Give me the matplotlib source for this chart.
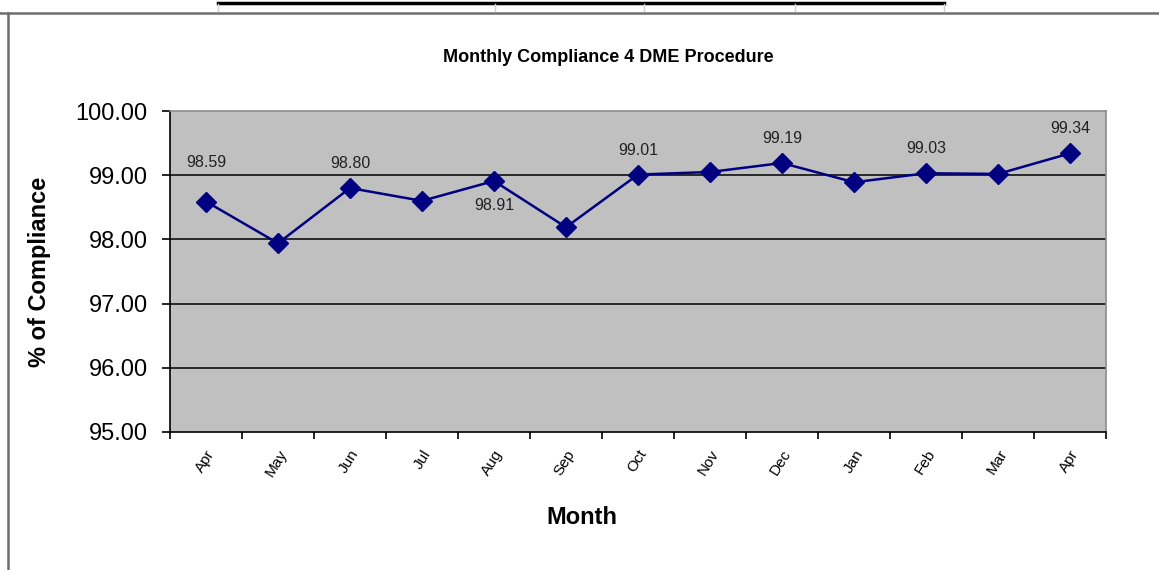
import matplotlib
matplotlib.use("Agg")
import matplotlib.pyplot as plt
from matplotlib.lines import Line2D

# data
months = ["Apr", "May", "Jun", "Jul", "Aug", "Sep", "Oct",
          "Nov", "Dec", "Jan", "Feb", "Mar", "Apr"]
compliance = [98.59, 97.94, 98.80, 98.60, 98.91, 98.19, 99.01,
              99.05, 99.19, 98.89, 99.03, 99.02, 99.34]
labelled = [0, 2, 4, 6, 8, 10, 12]   # points that carry a value label
label_below = [4]

plt.rcParams["font.family"] = ["Liberation Sans", "DejaVu Sans"]

fig = plt.figure(figsize=(11.59, 5.70), dpi=100)
ax = fig.add_axes([170 / 1159, 1 - 432 / 570, 936 / 1159, 321 / 570])
ax.set_facecolor("#c0c0c0")

x = [i + 0.5 for i in range(len(months))]
ax.plot(x, compliance, color="#000080", lw=1.8, marker="D", ms=10.5,
        mfc="#000080", mec="#000080", zorder=3)

for i in labelled:
    if i in label_below:
        dy, va = -17, "top"
    elif i == 0:
        dy, va = 32, "bottom"
    else:
        dy, va = 17, "bottom"
    ax.annotate(f"{compliance[i]:.2f}", (x[i], compliance[i]),
                xytext=(0, dy * 0.72), textcoords="offset points",
                ha="center", va=va, fontsize=11.5, color="#222222")

ax.set_xlim(0, len(months))
ax.set_ylim(95, 100)
ax.set_yticks([95, 96, 97, 98, 99, 100])
ax.set_yticklabels([f"{v:.2f}" for v in [95, 96, 97, 98, 99, 100]], fontsize=17)
for v in [96, 97, 98, 99]:
    ax.axhline(v, color="black", lw=1.1, zorder=1)

ax.set_xticks(range(len(months) + 1))
ax.set_xticklabels([])
ax.set_xticks(x, minor=True)
ax.set_xticklabels(months, minor=True, rotation=58, fontsize=11,
                   ha="right", va="top", rotation_mode="anchor")
ax.tick_params(axis="x", which="major", direction="out", length=5, width=1.2)
ax.tick_params(axis="x", which="minor", length=0, pad=11)
ax.tick_params(axis="y", direction="out", length=6, width=1.2, pad=10)

for s in ["top", "right"]:
    ax.spines[s].set_color("#8c8c8c")
    ax.spines[s].set_linewidth(1.2)
for s in ["left", "bottom"]:
    ax.spines[s].set_color("black")
    ax.spines[s].set_linewidth(1.2)

ax.set_ylabel("% of Compliance", fontsize=17, fontweight="bold")
ax.yaxis.set_label_coords(-0.127, 0.5)
ax.set_xlabel("Month", fontsize=17, fontweight="bold")
ax.xaxis.set_label_coords(0.44, -0.23)

fig.text(0.525, 1 - 58 / 570, "Monthly Compliance 4 DME Procedure",
         ha="center", va="center", fontsize=13, fontweight="bold")

# frame of the chart object and the table edge above it
fig.add_artist(Line2D([0, 1], [1 - 12.5 / 570] * 2, color="#6e6e6e", lw=1.8))
fig.add_artist(Line2D([7.5 / 1159] * 2, [0, 1 - 12.5 / 570], color="#6e6e6e", lw=1.8))
fig.add_artist(Line2D([218 / 1159, 944 / 1159], [1 - 2.5 / 570] * 2, color="black", lw=2.5))
for xp in [218, 495, 644, 795, 944]:
    fig.add_artist(Line2D([xp / 1159] * 2, [1 - 4 / 570, 1 - 11 / 570],
                          color="#d0d0d0", lw=1))

fig.savefig("out.png", dpi=100)
